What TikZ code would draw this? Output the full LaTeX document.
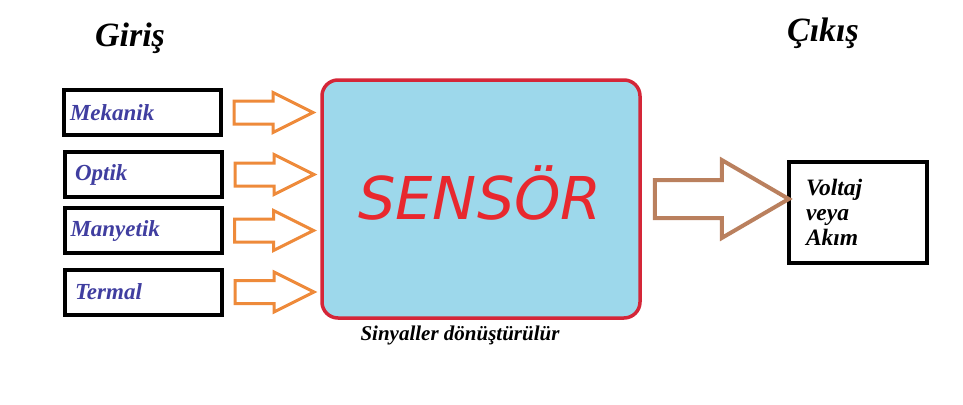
\documentclass[tikz,border=0pt]{standalone}
\usepackage{fontspec}
\setmainfont{Liberation Serif}
\newfontfamily\sensfont{DejaVu Sans}
\definecolor{sensblue}{RGB}{157,216,235}
\definecolor{sensred}{RGB}{212,38,56}
\definecolor{textred}{RGB}{232,40,46}
\definecolor{inkblue}{RGB}{64,62,160}
\definecolor{inorange}{RGB}{238,138,58}
\definecolor{outbrown}{RGB}{186,128,94}
\tikzset{
	inbox/.style={draw=black, line width=4pt, fill=white, text width=145pt, inner xsep=6pt,
		minimum height=45pt, align=left, text=inkblue,
		font=\fontsize{23}{27}\selectfont\bfseries\itshape},
	outbox/.style={draw=black, line width=4.5pt, fill=white, text width=104pt, inner xsep=17pt,
		minimum height=101pt, align=left,
		font=\fontsize{23.5}{25}\selectfont\bfseries\itshape},
	sensbox/.style={draw=sensred, line width=3.5pt, fill=sensblue, rounded corners=16pt,
		minimum width=318pt, minimum height=238pt},
	inarrow/.style={draw=inorange, line width=3pt, fill=white, line join=miter},
	outarrow/.style={draw=outbrown, line width=4pt, fill=white, line join=miter},
	heading/.style={font=\fontsize{34}{38}\selectfont\bfseries\itshape}
}
\begin{document}
\begin{tikzpicture}[x=1pt, y=-1pt]
	\useasboundingbox (0,0) rectangle (963,404);
	\def\shaft{11.5}
	\def\head{20}

	\node[heading] (giris) at (130,38) {Giriş};
	\node[heading] (cikis) at (823,33) {Çıkış};

	\node[inbox] (mek) at (142.5,112.5) {Mekanik};
	\node[inbox] (opt) at (143.5,174.5) {\hspace{4pt}Optik};
	\node[inbox] (man) at (143,230.5) {Manyetik};
	\node[inbox] (ter) at (143.5,292) {\hspace{4pt}Termal};

	\node[sensbox] (sensor) at (481,199) {};
	\node[text=textred, font=\sensfont\itshape\fontsize{59}{70}\selectfont] (senslbl) at (480,193) {SENSÖR};
	\node[font=\fontsize{21}{24}\selectfont\bfseries\itshape] (sinyal) at (460,335) {Sinyaller dönüştürülür};

	\node[outbox] (out) at (858,212.5) {Voltaj\\veya\\Akım};

	\foreach \n in {mek,opt,man,ter}{%
		\draw[inarrow] ([xshift=11pt]\n.east) ++(0,-\shaft)
			-- ++(39,0) -- ++(0,\shaft-\head) -- ++(40,\head)
			-- ++(-40,\head) -- ++(0,\shaft-\head) -- ++(-39,0) -- cycle;
	}
	\draw[outarrow] ([xshift=13pt]sensor.east) ++(0,-19)
		-- ++(67,0) -- ++(0,-20) -- ++(67,39)
		-- ++(-67,39) -- ++(0,-20) -- ++(-67,0) -- cycle;
\end{tikzpicture}
\end{document}
